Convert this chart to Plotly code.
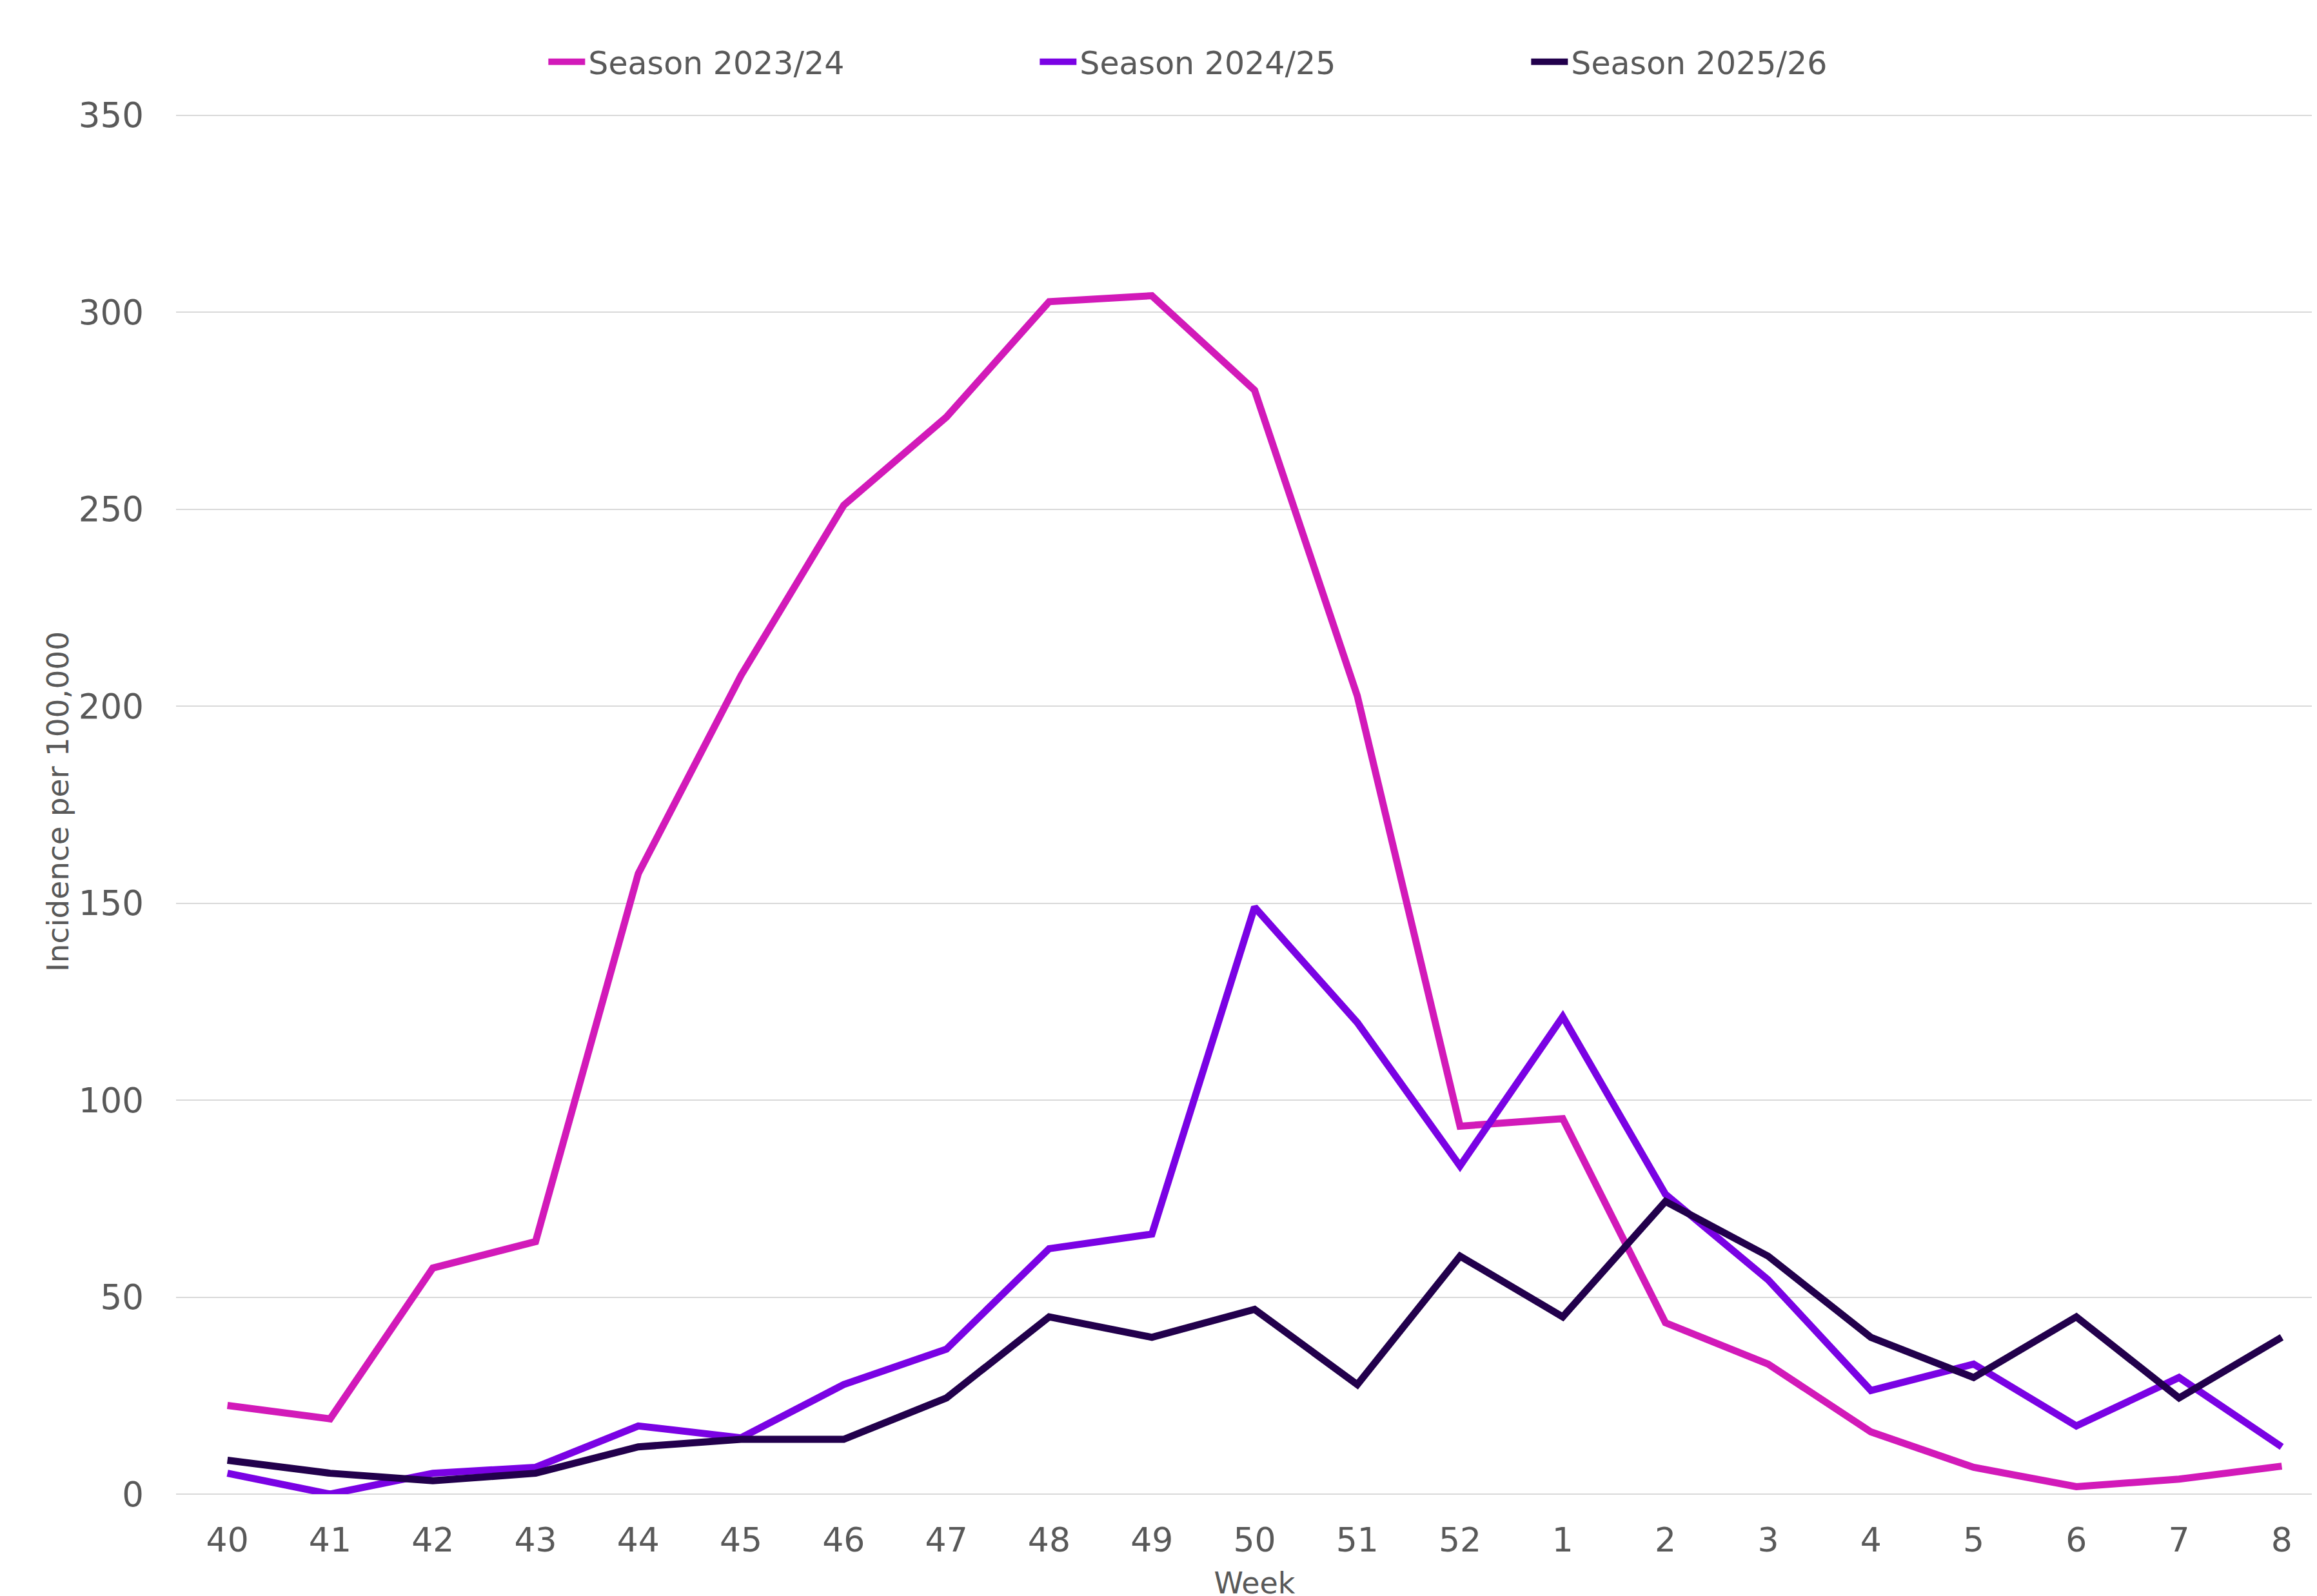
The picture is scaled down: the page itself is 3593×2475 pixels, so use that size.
import plotly.graph_objects as go

weeks = ["40", "41", "42", "43", "44", "45", "46", "47", "48", "49", "50", "51", "52",
         "1", "2", "3", "4", "5", "6", "7", "8"]

season_2023_24 = [22.5, 19.1, 57.4, 64.1, 157.5, 207.8, 251.0, 273.4, 302.7, 304.2, 280.2,
                  202.6, 93.4, 95.3, 43.5, 33.0, 15.8, 6.8, 1.9, 3.8, 7.1]
season_2024_25 = [5.3, 0.0, 5.3, 6.8, 17.3, 14.3, 27.8, 36.8, 62.3, 66.0, 149.0,
                  119.7, 83.3, 121.2, 76.1, 54.4, 26.3, 33.0, 17.3, 29.6, 12.0]
season_2025_26 = [8.6, 5.3, 3.4, 5.3, 12.0, 13.9, 13.9, 24.4, 45.0, 39.8, 46.9,
                  27.8, 60.4, 45.0, 74.3, 60.4, 39.8, 29.6, 45.0, 24.4, 39.8]

series = [
    ("Season 2023/24", season_2023_24, "#D21AB9"),
    ("Season 2024/25", season_2024_25, "#7A02E4"),
    ("Season 2025/26", season_2025_26, "#22004C"),
]

FONT = "DejaVu Sans, Verdana, sans-serif"
GREY = "#595959"

fig = go.Figure()
for name, vals, color in series:
    fig.add_trace(go.Scatter(
        x=weeks, y=vals, name=name, mode="lines",
        line=dict(color=color, width=11),
    ))

fig.update_layout(
    width=3610, height=2475,
    paper_bgcolor="white", plot_bgcolor="white",
    margin=dict(l=265, r=0, t=161, b=166),
    font=dict(family=FONT, color=GREY, size=50),
    legend=dict(
        orientation="h", x=0.1711, xanchor="left", y=1.034, yanchor="middle",
        entrywidth=690, entrywidthmode="pixels",
        font=dict(size=49, color=GREY), itemwidth=57,
        bgcolor="rgba(0,0,0,0)",
    ),
    showlegend=True,
)

fig.update_xaxes(
    type="category", categoryorder="array", categoryarray=weeks,
    range=[-0.5, 20.5], automargin=False,
    showgrid=False, showline=False, zeroline=False,
    ticks="", tickfont=dict(size=52, color=GREY), ticklabelstandoff=36,
    title=dict(text="Week", font=dict(size=46, color=GREY), standoff=21),
)

fig.update_yaxes(
    range=[0, 351.6], dtick=50, tick0=0, automargin=False,
    showgrid=True, gridcolor="#D9D9D9", gridwidth=2,
    zeroline=True, zerolinecolor="#D9D9D9", zerolinewidth=2,
    showline=False, ticks="",
    tickfont=dict(size=53, color=GREY), ticklabelstandoff=49,
    title=dict(text="Incidence per 100,000", font=dict(size=47, color=GREY), standoff=0),
)

fig.write_html("out.html")
